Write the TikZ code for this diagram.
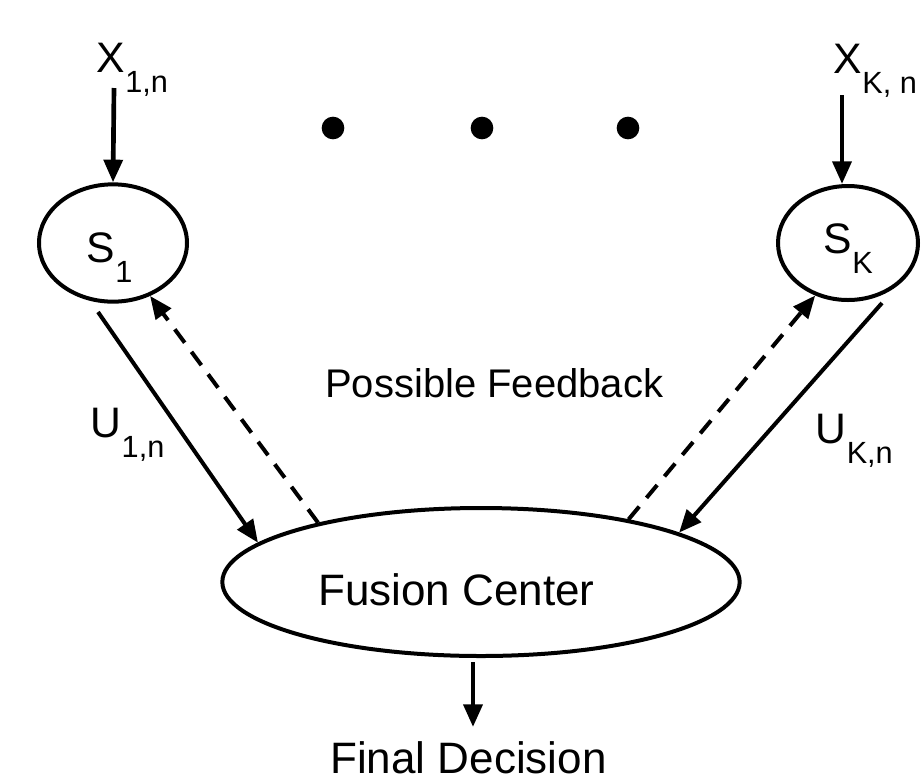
\documentclass[tikz,border=0pt]{standalone}
\usepackage{fontspec}
\setmainfont{Liberation Sans}
\usetikzlibrary{arrows.meta, shapes.geometric}
\newcommand{\lowsub}[2]{#1\kern0.5pt\raisebox{-15pt}{\fontsize{23}{27}\selectfont #2}}
\tikzset{
  sensor/.style={draw, ellipse, line width=3pt, inner sep=0pt},
  txt/.style={inner sep=0pt, anchor=base west, font=\fontsize{32}{38}\selectfont},
  link/.style={line width=3pt, -{Triangle[length=17pt,width=14pt]}},
  feedback/.style={link, dash pattern=on 12.5pt off 8.5pt},
  dot/.style={circle, fill, inner sep=0pt, minimum size=17pt}
}
\begin{document}
\begin{tikzpicture}[x=0.75pt, y=-0.75pt]
\useasboundingbox (0,0) rectangle (921,783);
% sensors and fusion center
\node[sensor, minimum width=111pt, minimum height=88pt](S1)at(113,243){};
\node[sensor, minimum width=105pt, minimum height=85.5pt](SK)at(848,243){};
\node[sensor, minimum width=388pt, minimum height=111pt](FC)at(481,582){};
\foreach \x in {333,482,628}
  \node[dot](D\x)at(\x,128){};
%
\node[txt](X1)at(96,72){\lowsub{X}{1,n}};
\node[txt](XK)at(833,73){\lowsub{X}{K, n}};
\node[txt](L1)at(86,262){\lowsub{S}{1}};
\node[txt](LK)at(823,253){\lowsub{S}{K}};
\node[txt](U1)at(90,437){\lowsub{U}{1,n}};
\node[txt](UK)at(815,443){\lowsub{U}{K,n}};
\node[txt, font=\fontsize{30}{36}\selectfont](PF)at(325,397){Possible Feedback};
\node[txt, font=\fontsize{33}{40}\selectfont](FT)at(318,605){Fusion Center};
\node[txt, font=\fontsize{33}{40}\selectfont](FD)at(330,773){Final Decision};
%
\coordinate (x1in) at (114,88);
\coordinate (xkin) at (842,95);
\coordinate (s1out) at (98,312);
\coordinate (skout) at (882,303);
\coordinate (fcout) at (473,662);
\coordinate (fdin) at (473,727);
%
\draw[link, line width=3.5pt](x1in)--(S1.north);
\draw[link, line width=3.5pt](xkin)--(xkin |- SK.north);
\draw[link](s1out)--(FC.170);
\draw[link](skout)--(FC.14);
\draw[feedback](FC.160)--(S1.-55);
\draw[feedback](FC.23)--(SK.-122);
\draw[link, line width=3.5pt](fcout)--(fdin);
\end{tikzpicture}
\end{document}
